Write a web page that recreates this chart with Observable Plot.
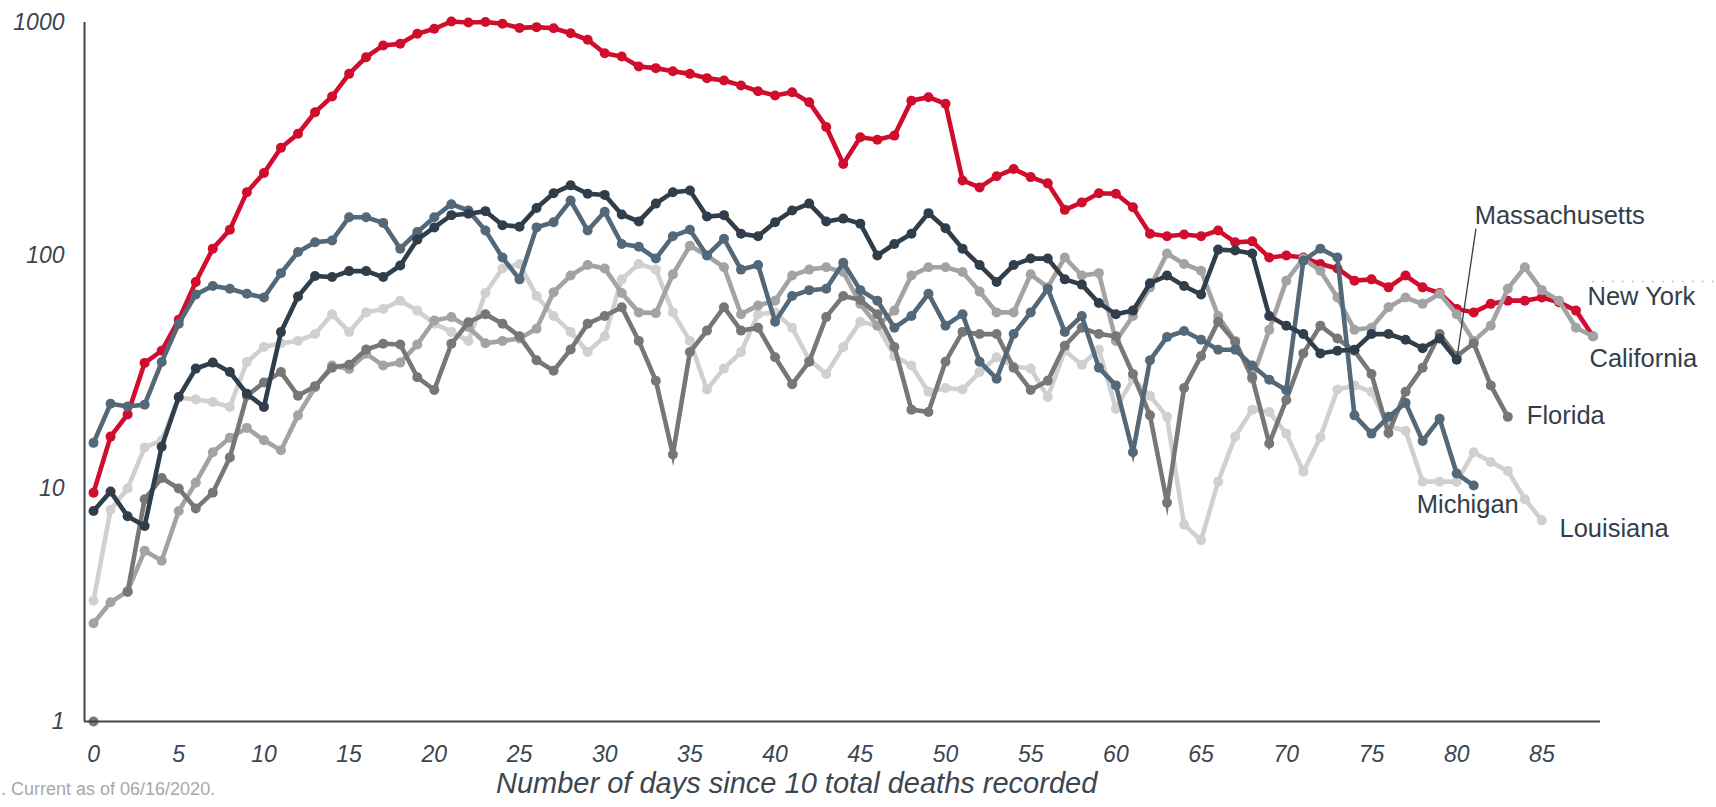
<!DOCTYPE html>
<html>
<head>
<meta charset="utf-8">
<script src="https://cdn.jsdelivr.net/npm/d3@7"></script>
<script src="https://cdn.jsdelivr.net/npm/@observablehq/plot@0.6"></script>
<style>
  html, body { margin: 0; padding: 0; background: #fff; }
  #wrap { position: relative; width: 1716px; height: 807px; overflow: hidden;
          font-family: "Liberation Sans", Arial, sans-serif; }
  #chart svg { display: block; }
  #xtitle { position: absolute; left: 496px; top: 769px; font-size: 29px; line-height: 1;
            font-style: italic; color: #3b4650; white-space: nowrap; }
  #caption { position: absolute; left: 1px; top: 780px; font-size: 18px; line-height: 1;
             color: #a8a8a8; white-space: nowrap; }
</style>
</head>
<body>
<div id="wrap">
  <div id="chart"></div>
  <div id="xtitle">Number of days since 10 total deaths recorded</div>
  <div id="caption">. Current as of 06/16/2020.</div>
</div>
<script>
// ---- data: daily deaths, indexed by day since 10 total deaths ----
const newYork = [9.6, 16.7, 20.8, 34.6, 39, 53, 77, 107, 129, 187,
  226, 290, 333, 412, 481, 602, 710, 797, 811, 894,
  940, 1010, 1000, 1005, 987, 948, 955, 945, 899, 843,
  738, 714, 647, 637, 618, 602, 577, 564, 537, 507,
  486, 502, 455, 356, 247, 322, 314, 327, 462, 478,
  448, 210, 196, 219, 235, 217, 204, 157, 169, 185,
  184, 161, 124, 121, 123, 121, 128, 114, 115, 98,
  100, 98, 92, 88, 78, 79, 73, 82, 73, 69,
  59, 57, 62, 64, 64, 66, 63, 58, 45];
const massachusetts = [8.0, 9.7, 7.6, 6.9, 15.1, 24.7, 32.7, 34.7, 31.6, 25.5,
  22.4, 46.9, 66.7, 81.6, 80.8, 85.7, 85.7, 80.8, 90.6, 117,
  132, 149, 151, 155, 135, 133, 160, 185, 200, 184,
  182, 150, 140, 167, 187, 190, 147, 149, 124, 121,
  139, 156, 167, 140, 144, 137, 100, 112, 124, 152,
  131, 107, 91, 77, 91, 97, 97, 79, 75, 62.5,
  56, 58, 76, 82, 74, 68, 106, 105, 102, 55,
  50, 46, 38, 39, 39.4, 46, 46, 43.5, 40, 44, 35.7];
const michigan = [15.7, 23.1, 22.5, 22.9, 34.9, 51, 68, 74, 72, 68.5,
  66, 84, 103.5, 114, 116, 146, 146, 138, 107, 126,
  146, 166, 156, 128, 98, 79, 132, 139, 172, 128,
  154, 112, 109, 97, 121, 129, 100, 118, 87, 91,
  52, 67, 71, 72, 93, 71, 64, 49, 55, 68.5,
  50, 56, 35, 29.6, 46, 57, 72, 47, 55, 33,
  27.7, 14.3, 35.5, 44.7, 47.4, 43.5, 39.4, 39.4, 33.7, 29.3,
  26.4, 95, 107, 98, 20.6, 17.2, 20.3, 23.3, 16, 19.9, 11.6, 10.3];
const california = [2.64, 3.25, 3.62, 5.4, 4.9, 8.0, 10.6, 14.3, 16.5, 18.2,
  16.1, 14.6, 20.6, 27.2, 33.7, 32.6, 37.9, 33.7, 34.7, 41.5,
  52.6, 54.4, 49.3, 42, 43, 44, 48.5, 69.6, 82, 91,
  88, 69, 57, 56.6, 83, 110, 100, 89, 56, 61,
  64, 82, 87, 89, 85, 62, 50, 58, 82, 89,
  89, 85, 70, 57, 57, 83, 73, 98, 82, 84,
  43, 55, 73, 102, 92, 86, 55, 43, 29.6, 48,
  78, 97, 86, 66, 48, 49, 60, 66, 62, 68.5,
  56, 43, 50, 72, 89, 71, 64, 49, 45];
const florida = [1, null, 3.6, 9.0, 11.1, 10.0, 8.2, 9.6, 13.6, 25,
  28.5, 31.6, 25, 27.5, 33, 34, 39.5, 41.8, 41.5, 30,
  26.5, 41.8, 51.7, 56, 51, 45, 35.5, 32, 39.5, 51,
  55, 60, 43, 29, 14, 38.5, 47.6, 60, 47.6, 49,
  36.6, 28, 35, 54.5, 67, 64.5, 56, 40.5, 21.8, 21.3,
  35, 47, 46, 46, 33, 26.5, 29, 41, 49, 46,
  45, 31, 20.6, 8.7, 27, 37, 52, 42.5, 30, 15.6,
  24, 38, 50, 44, 39, 31, 17.3, 26, 33, 46,
  37, 42, 27.7, 20.3];
const louisiana = [3.3, 8.1, 10.0, 15.0, 16.1, 24.5, 24.1, 23.5, 22.4, 34.9,
  40.5, 42, 43, 46, 56, 47, 57, 59, 64, 58,
  51, 47, 43, 69, 88, 92, 67, 55, 47, 38.5,
  45, 79, 92, 87, 57, 43, 26.6, 32.7, 38.5, 56,
  57, 49, 35.7, 31, 40.5, 52, 50, 37, 33.7, 26,
  27, 26.6, 31.6, 36.6, 33.4, 32.7, 24.7, 39, 34, 39.5,
  22, 29.6, 25, 20.3, 7.0, 6.0, 10.7, 16.7, 21.8, 21.3,
  17.2, 11.8, 16.6, 26.6, 27.7, 26, 18.5, 17.7, 10.7, 10.7,
  10.7, 14.3, 13, 11.9, 9.0, 7.3];

const stateNames = ["New York", "Massachusetts", "Michigan", "California", "Florida", "Louisiana"];
const stateValues = [newYork, massachusetts, michigan, california, florida, louisiana];
const xTicks = [0, 5, 10, 15, 20, 25, 30, 35, 40, 45, 50, 55, 60, 65, 70, 75, 80, 85];
const yTicks = [1, 10, 100, 1000];

// ---- styling / layout (kept apart from the data) ----
const stateColors = {
  "New York": "#d00d2d", "Massachusetts": "#2f3e4a", "Michigan": "#536878",
  "California": "#a3a3a3", "Florida": "#777777", "Louisiana": "#d0d0d0"
};
const drawOrder = ["New York", "Louisiana", "California", "Florida", "Michigan", "Massachusetts"];
const labelOffsets = {
  "New York": [-5.5, -39], "California": [-3.5, 23], "Florida": [19, -1],
  "Michigan": [-57, 19], "Louisiana": [17.6, 8], "Massachusetts": [18, -144]
};
const massLeaderTop = {day: 81.13, value: 130.5};
const dottedRef = {value: 77.3, from: 87.97, to: 95.4};
const ink = "#3b4650";

const rowsByState = {};
stateNames.forEach((s, i) => {
  rowsByState[s] = stateValues[i].map((v, d) => ({state: s, day: d, value: v}));
});
const lastPoint = s => {
  const r = rowsByState[s].filter(d => d.value != null);
  return r[r.length - 1];
};

const marks = [];
marks.push(Plot.ruleY([dottedRef.value], {x1: dottedRef.from, x2: dottedRef.to,
  stroke: "#bdbdbd", strokeWidth: 1.6, strokeDasharray: "1.6 8.4"}));
for (const s of drawOrder) {
  marks.push(Plot.line(rowsByState[s], {x: "day", y: "value", stroke: stateColors[s],
    strokeWidth: 4.6, strokeLinejoin: "miter", strokeMiterlimit: 10, strokeLinecap: "butt"}));
  marks.push(Plot.dot(rowsByState[s].filter(d => d.value != null),
    {x: "day", y: "value", r: 5, fill: stateColors[s], stroke: "none"}));
}
// axes
marks.push(Plot.ruleY([1], {stroke: ink, strokeWidth: 2}));
marks.push(Plot.ruleX([-0.53], {stroke: ink, strokeWidth: 2}));
marks.push(Plot.axisY({ticks: yTicks, tickSize: 0, tickPadding: 20, tickFormat: d => String(d),
  fontSize: 23, fontStyle: "italic", label: null}));
marks.push(Plot.axisX({ticks: xTicks, tickSize: 0, tickPadding: 24, tickFormat: d => String(d),
  fontSize: 23, fontStyle: "italic", label: null}));
// leader line and series labels
const mLast = lastPoint("Massachusetts");
marks.push(Plot.link([{x1: mLast.day, y1: mLast.value, x2: massLeaderTop.day, y2: massLeaderTop.value}],
  {x1: "x1", y1: "y1", x2: "x2", y2: "y2", stroke: "#2f3e4a", strokeWidth: 1.3}));
for (const s of stateNames) {
  const p = lastPoint(s);
  const [dx, dy] = labelOffsets[s];
  marks.push(Plot.text([p], {x: "day", y: "value", text: d => d.state, dx, dy,
    textAnchor: "start", lineAnchor: "middle", fontSize: 25.5, fill: "#333e48"}));
}

const chart = Plot.plot({
  width: 1716,
  height: 807,
  marginLeft: 84,
  marginRight: 116,
  marginTop: 22,
  marginBottom: 86,
  style: {fontFamily: "'Liberation Sans', Arial, sans-serif", color: ink, background: "white", overflow: "visible"},
  x: {domain: [-0.53, 88.44], axis: null},
  y: {type: "log", domain: [1, 1000], axis: null},
  marks
});
document.getElementById("chart").appendChild(chart);
</script>
</body>
</html>
